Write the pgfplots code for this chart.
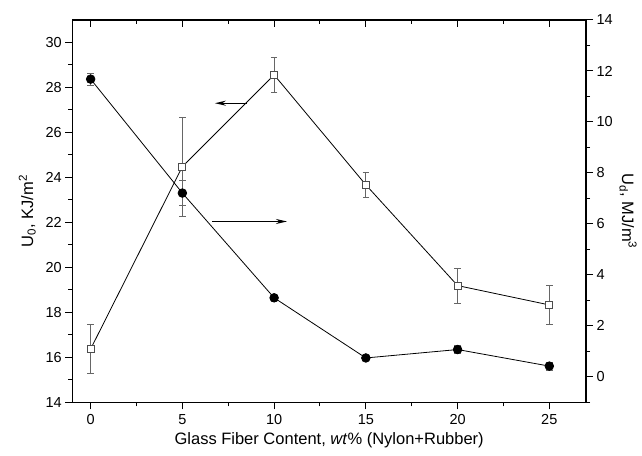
\documentclass[border=0pt]{standalone}
\usepackage{fontspec}
\setmainfont{Liberation Sans}
\usepackage{pgfplots}
\pgfplotsset{compat=1.18}
\usetikzlibrary{arrows.meta}
\begin{document}
\begin{tikzpicture}
\useasboundingbox (0,0) rectangle (642pt,455pt);
\pgfplotsset{
  base/.style={
    at={(72.3pt,52.7pt)}, anchor=south west, scale only axis,
    width=513.7pt, height=382.3pt,
    xmin=-1, xmax=27,
    axis line style={line width=1.2pt},
    tick style={line width=1pt, black},
    major tick length=7pt, minor tick length=4pt,
    tick label style={font=\fontsize{14.5}{16}\selectfont},
    label style={font=\fontsize{16.5}{18}\selectfont},
    /pgf/number format/assume math mode=true,
  },
  errs/.style={
    error bars/.cd, y dir=both, y explicit,
    error bar style={black!60, line width=0.8pt},
    error mark options={rotate=90, mark size=3.3pt, black!60, line width=0.8pt},
  },
}
% left axis: U_0 (open squares)
\begin{axis}[base,
    tick align=outside, xtick pos=bottom, ytick pos=left,
    ymin=14, ymax=31,
    ytick={14,16,...,30}, minor ytick={15,17,...,29},
    xtick={0,5,...,25}, minor xtick={2.5,7.5,...,22.5},
    xticklabel style={yshift=-2pt},
    xlabel={Glass Fiber Content, \textit{wt}\% (Nylon+Rubber)},
    ylabel={U\textsubscript{0}, KJ/m\textsuperscript{2}},
    xlabel style={yshift=-1pt},
    ylabel style={yshift=3pt},
]
\addplot+[black, line width=0.8pt, mark=square*, mark size=3.5pt,
    mark options={fill=white, draw=black!70, line width=0.8pt}, errs]
coordinates {
    (0,16.37) +- (0,1.10)
    (5,24.48) +- (0,2.20)
    (10,28.56) +- (0,0.78)
    (15,23.67) +- (0,0.55)
    (20,19.19) +- (0,0.77)
    (25,18.33) +- (0,0.85)
};
\draw[-{Stealth[length=11pt,width=5pt]}, line width=1.4pt]
    (axis cs:8.53,27.3) -- (axis cs:6.77,27.3);
\draw[-{Stealth[length=11pt,width=5pt]}, line width=1.4pt]
    (axis cs:6.62,22.04) -- (axis cs:10.7,22.04);
\end{axis}
% right axis: U_d (filled circles)
\begin{axis}[base,
    axis x line=none, axis y line*=right, tick align=outside,
    ymin=-1, ymax=14,
    ytick={0,2,...,14}, minor ytick={-1,1,...,13},
    ylabel={U\textsubscript{d}, MJ/m\textsuperscript{3}},
    ylabel style={rotate=180},
]
\addplot+[black, line width=0.8pt, mark=*, mark size=4.3pt,
    mark options={fill=black}, errs]
coordinates {
    (0,11.68) +- (0,0.23)
    (5,7.21) +- (0,0.50)
    (10,3.10) +- (0,0.15)
    (15,0.74) +- (0,0.10)
    (20,1.07) +- (0,0.15)
    (25,0.42) +- (0,0.15)
};
\end{axis}
% top ticks pointing inward
\begin{axis}[base,
    axis y line=none, axis x line*=top, tick align=inside,
    xtick={0,5,...,25}, minor xtick={2.5,7.5,...,22.5},
    xticklabels={}, ymin=0, ymax=1,
]
\end{axis}
\end{tikzpicture}
\end{document}
